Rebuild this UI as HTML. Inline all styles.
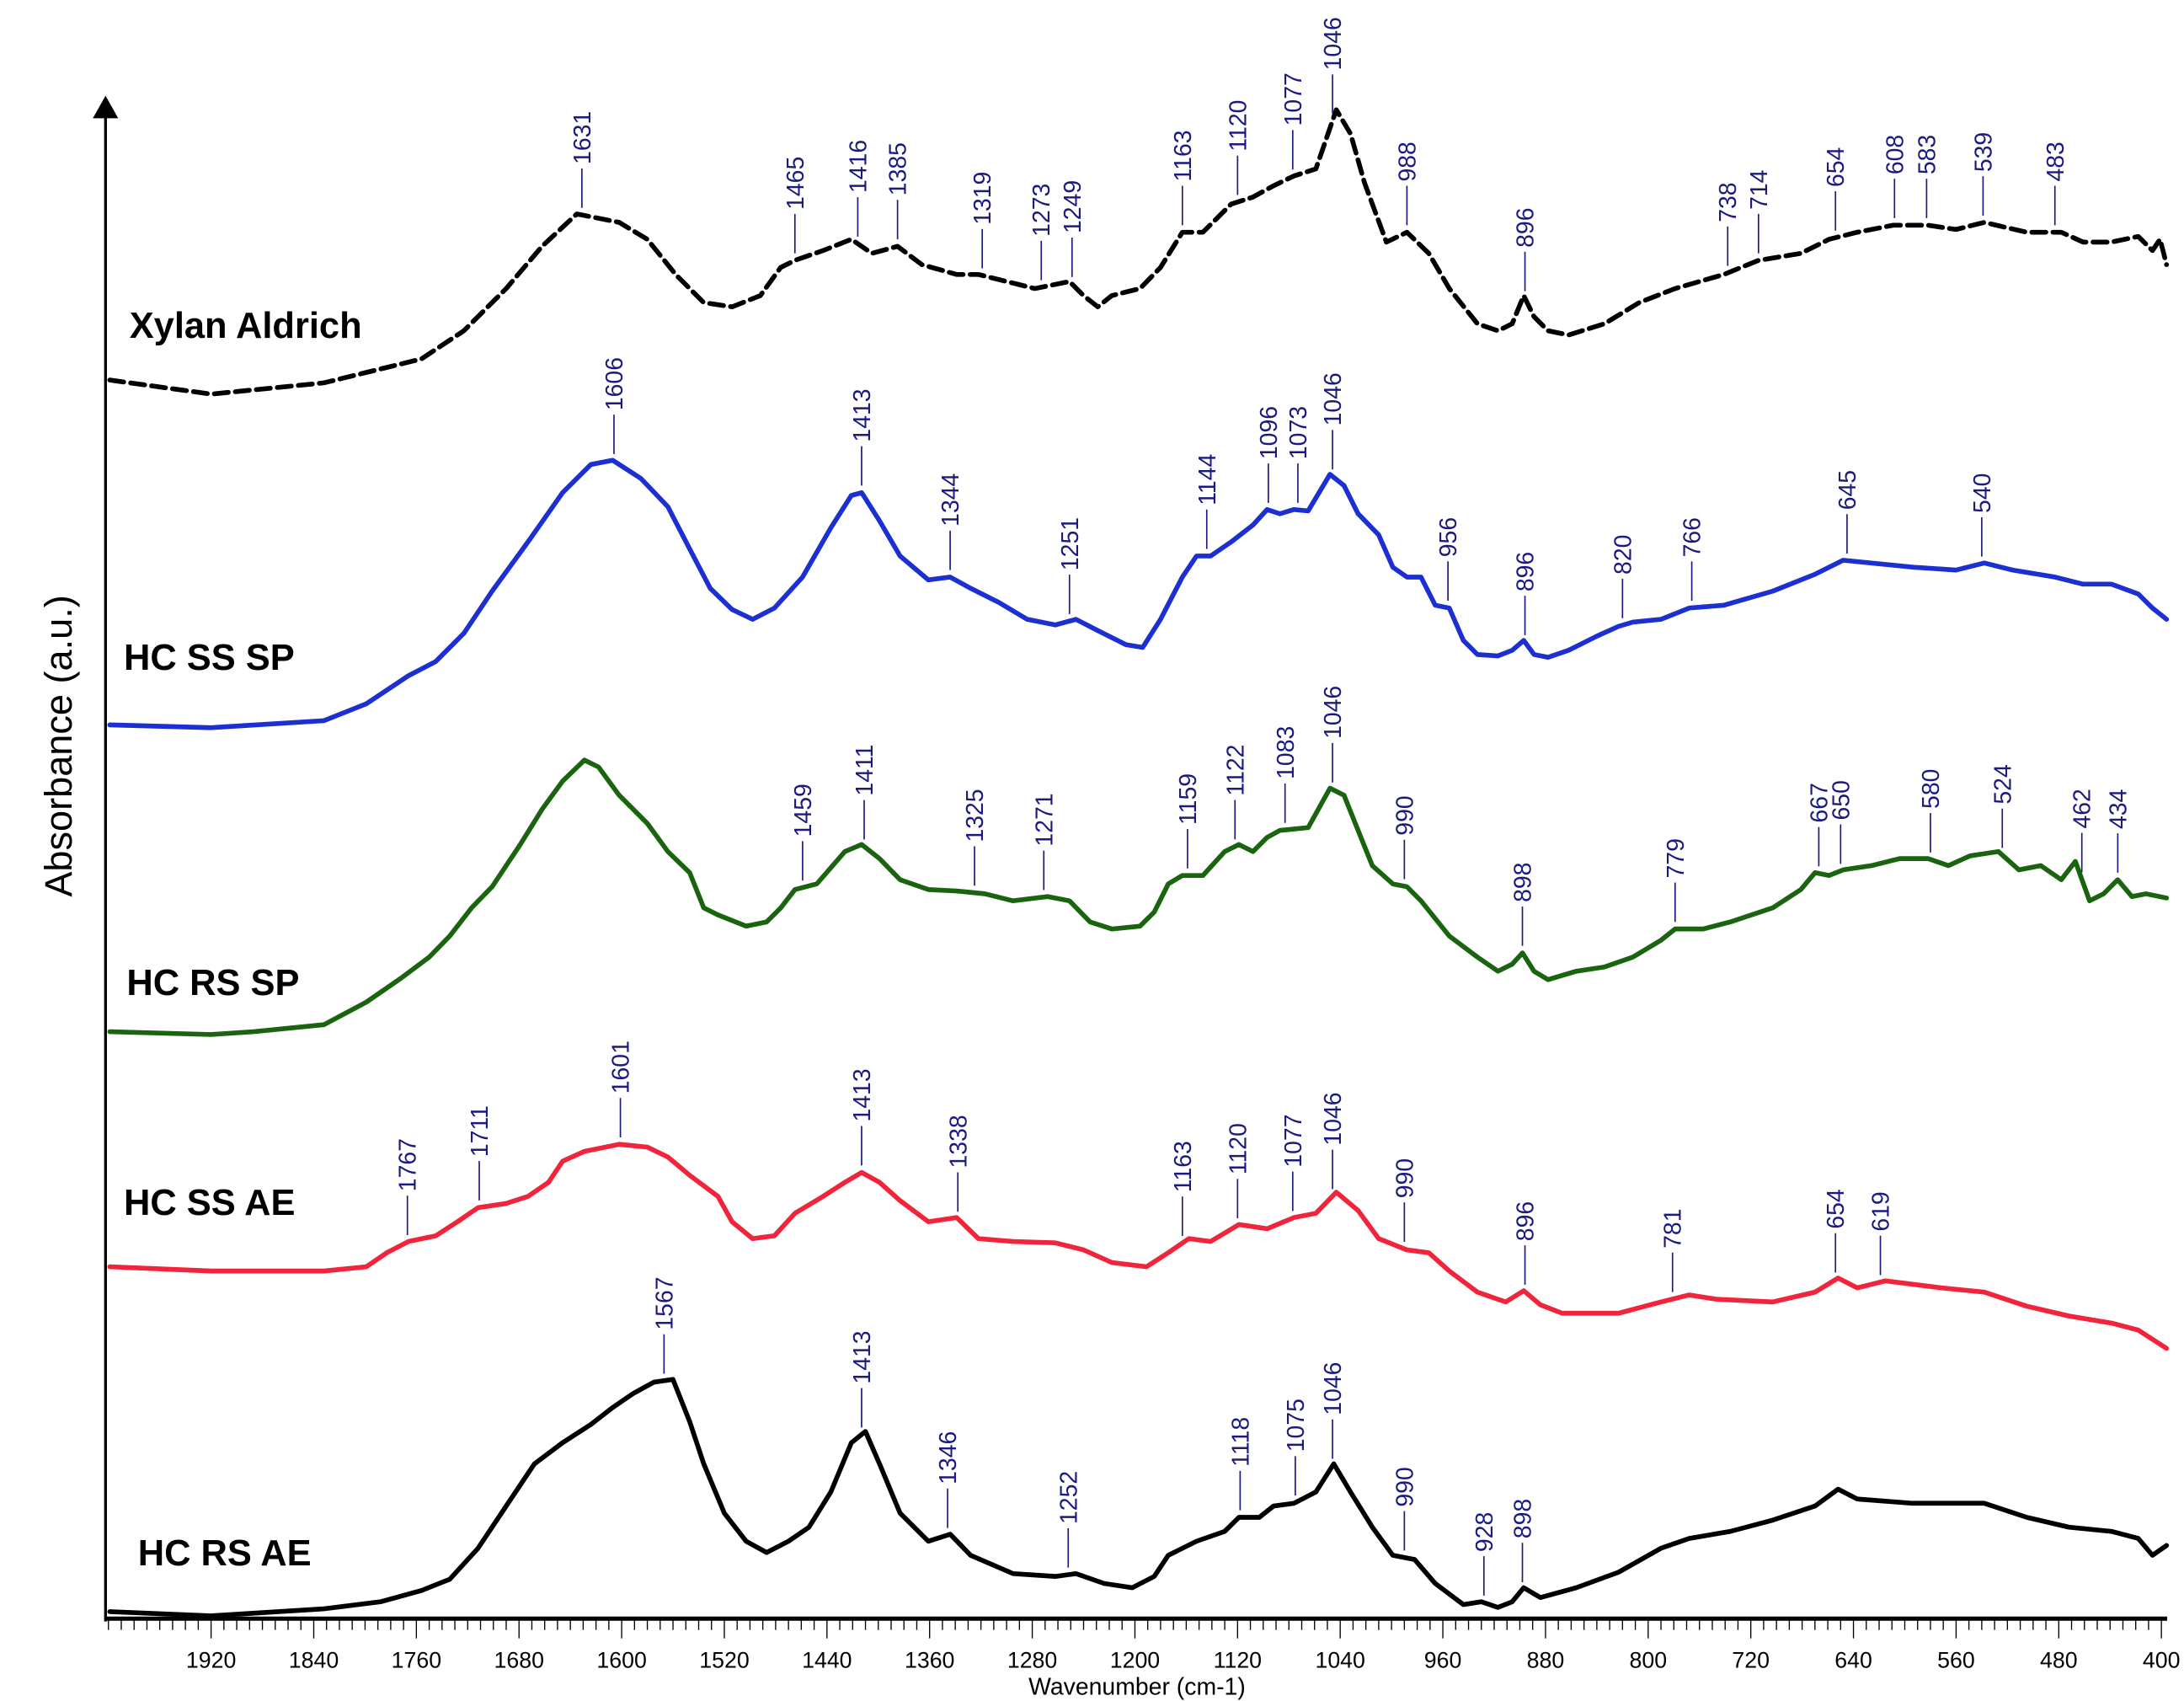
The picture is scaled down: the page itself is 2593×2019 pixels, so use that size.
<!DOCTYPE html>
<html><head><meta charset="utf-8"><style>
html,body{margin:0;padding:0;background:#fff;}
svg{display:block;}
</style></head><body>
<svg id="chart" width="2593" height="2019" viewBox="0 0 1552 1208.5" preserveAspectRatio="none" xmlns="http://www.w3.org/2000/svg">
<g id="axes"></g>
<g id="series"></g>
<g id="labels"></g>
</svg>
<script>
// ---------- data (wavenumber cm-1, absorbance a.u. offset-stacked) ----------
const xTicks = [1920,1840,1760,1680,1600,1520,1440,1360,1280,1200,1120,1040,960,880,800,720,640,560,480,400];

const xylanWn = [1999,1920,1832,1756,1723,1690,1662,1635,1602,1580,1558,1536,1514,1492,1476,1465,1443,1421,1405,1385,1366,1339,1322,1300,1278,1251,1240,1229,1218,1196,1180,1163,1147,1125,1108,1092,1076,1059,1043,1032,1021,1004,988,971,955,933,917,906,897,889,878,862,834,807,779,741,714,681,659,637,609,582,560,538,505,478,461,439,418,407,401,396];
const xylanAbs = [8.90,8.80,8.88,9.05,9.25,9.55,9.85,10.08,10.02,9.90,9.65,9.45,9.42,9.50,9.70,9.75,9.82,9.90,9.80,9.85,9.72,9.65,9.65,9.60,9.55,9.60,9.50,9.42,9.50,9.55,9.70,9.95,9.95,10.15,10.20,10.28,10.35,10.40,10.82,10.65,10.30,9.88,9.95,9.80,9.55,9.30,9.25,9.30,9.50,9.35,9.25,9.22,9.30,9.45,9.55,9.65,9.75,9.80,9.90,9.95,10.00,10.00,9.97,10.02,9.95,9.95,9.88,9.88,9.92,9.82,9.90,9.72];

const ssspWn = [1999,1920,1832,1799,1766,1745,1723,1701,1673,1646,1624,1607,1585,1564,1547,1531,1514,1498,1481,1459,1437,1421,1413,1399,1383,1361,1344,1328,1306,1284,1262,1246,1229,1207,1194,1180,1163,1152,1141,1125,1108,1097,1087,1076,1065,1048,1037,1026,1010,999,988,977,966,955,944,933,917,906,897,889,878,862,840,823,812,790,768,741,703,670,648,626,593,560,538,516,483,461,439,418,407,396];
const ssspAbs = [6.45,6.43,6.48,6.60,6.80,6.90,7.10,7.40,7.75,8.10,8.30,8.33,8.20,8.00,7.70,7.42,7.27,7.20,7.28,7.50,7.85,8.08,8.10,7.90,7.65,7.48,7.50,7.42,7.32,7.20,7.16,7.20,7.12,7.02,7.00,7.20,7.50,7.65,7.65,7.75,7.87,7.98,7.95,7.98,7.97,8.23,8.15,7.95,7.80,7.57,7.50,7.50,7.30,7.28,7.05,6.95,6.94,6.98,7.05,6.95,6.93,6.98,7.08,7.15,7.18,7.20,7.28,7.30,7.40,7.52,7.62,7.60,7.57,7.55,7.60,7.55,7.50,7.45,7.45,7.38,7.28,7.20];

const rsspWn = [1999,1920,1887,1832,1799,1772,1750,1734,1717,1701,1679,1662,1646,1629,1618,1602,1580,1564,1547,1536,1525,1503,1487,1476,1465,1448,1426,1413,1399,1383,1361,1339,1317,1295,1268,1251,1235,1218,1196,1185,1174,1163,1147,1130,1119,1108,1097,1087,1065,1048,1037,1026,1015,999,988,977,955,933,917,906,898,889,878,856,834,812,790,779,757,736,703,681,670,659,648,626,604,582,566,549,527,511,494,478,467,456,445,434,423,412,396];
const rsspAbs = [4.27,4.25,4.27,4.32,4.48,4.65,4.80,4.95,5.15,5.30,5.60,5.85,6.05,6.20,6.15,5.95,5.75,5.55,5.40,5.15,5.10,5.02,5.05,5.15,5.28,5.32,5.55,5.60,5.50,5.35,5.28,5.27,5.25,5.20,5.23,5.20,5.05,5.00,5.02,5.12,5.32,5.38,5.38,5.55,5.60,5.55,5.65,5.70,5.72,6.00,5.95,5.70,5.45,5.32,5.30,5.20,4.95,4.80,4.70,4.75,4.83,4.70,4.64,4.70,4.73,4.80,4.92,5.00,5.00,5.05,5.15,5.28,5.40,5.38,5.42,5.45,5.50,5.50,5.45,5.52,5.55,5.42,5.45,5.35,5.48,5.20,5.25,5.35,5.23,5.25,5.22];

const ssaeWn = [1999,1920,1832,1799,1783,1766,1745,1728,1712,1690,1673,1657,1646,1629,1602,1580,1564,1547,1525,1514,1498,1481,1465,1443,1426,1413,1399,1383,1361,1339,1322,1295,1262,1240,1218,1191,1174,1158,1141,1119,1097,1076,1059,1043,1026,1010,988,971,955,933,911,897,884,867,823,790,768,747,703,670,652,637,615,571,538,505,472,439,418,396];
const ssaeAbs = [2.60,2.57,2.57,2.60,2.70,2.78,2.82,2.92,3.02,3.05,3.10,3.20,3.35,3.42,3.47,3.45,3.38,3.25,3.10,2.92,2.80,2.82,2.98,3.10,3.20,3.27,3.20,3.07,2.92,2.95,2.80,2.78,2.77,2.72,2.63,2.60,2.70,2.80,2.78,2.90,2.87,2.95,2.98,3.13,3.00,2.80,2.72,2.70,2.57,2.42,2.35,2.43,2.33,2.27,2.27,2.35,2.40,2.37,2.35,2.42,2.52,2.45,2.50,2.45,2.42,2.32,2.25,2.20,2.15,2.02];

const rsaeWn = [1999,1920,1832,1788,1756,1734,1712,1690,1668,1646,1624,1607,1591,1575,1560,1547,1536,1520,1503,1487,1470,1454,1437,1421,1410,1399,1383,1361,1344,1328,1295,1262,1246,1224,1202,1185,1174,1152,1130,1119,1103,1092,1076,1059,1045,1032,1015,999,982,966,944,930,917,906,897,884,856,823,790,768,736,703,670,652,637,594,571,538,505,472,439,418,407,396];
const rsaeAbs = [0.15,0.12,0.17,0.22,0.30,0.38,0.60,0.90,1.20,1.35,1.48,1.60,1.70,1.78,1.80,1.50,1.20,0.85,0.65,0.57,0.65,0.75,1.00,1.35,1.43,1.20,0.85,0.65,0.70,0.55,0.42,0.40,0.42,0.35,0.32,0.40,0.55,0.65,0.72,0.82,0.82,0.90,0.92,1.00,1.20,1.00,0.75,0.55,0.52,0.35,0.20,0.22,0.18,0.22,0.32,0.25,0.32,0.43,0.60,0.67,0.72,0.80,0.90,1.02,0.95,0.92,0.92,0.92,0.82,0.75,0.72,0.67,0.55,0.62];

const xylanPeaks = [1631,1465,1416,1385,1319,1273,1249,1163,1120,1077,1046,988,896,738,714,654,608,583,539,483];
const ssspPeaks = [1606,1413,1344,1251,1144,1096,1073,1046,956,896,820,766,645,540];
const rsspPeaks = [1459,1411,1325,1271,1159,1122,1083,1046,990,898,779,667,650,580,524,462,434];
const ssaePeaks = [1767,1711,1601,1413,1338,1163,1120,1077,1046,990,896,781,654,619];
const rsaePeaks = [1567,1413,1346,1252,1118,1075,1046,990,928,898];

// ---------- scales ----------
const X0 = 150, PXW = 0.9118;
function xs(w){ return X0 + (1920 - w) * PXW; }
function ys(a){ return 1160 - a * 100; }
function interp(wn, ab, w){
  for (let i=0;i<wn.length-1;i++){
    if ((wn[i]>=w && wn[i+1]<=w)){
      const t=(wn[i]-w)/(wn[i]-wn[i+1]);
      return ab[i]+(ab[i+1]-ab[i])*t;
    }
  }
  return ab[ab.length-1];
}
const NS="http://www.w3.org/2000/svg";
function mk(tag, attrs, parent){
  const e=document.createElementNS(NS,tag);
  for (const k in attrs) e.setAttribute(k, attrs[k]);
  parent.appendChild(e); return e;
}
const axes=document.getElementById('axes');
const sg=document.getElementById('series');
const lg=document.getElementById('labels');

let yl=mk('line',{x1:75,y1:80,x2:75,y2:1152,stroke:'#000','stroke-width':2},axes);


let ar=mk('polygon',{points:'75,68 66,84 84,84',fill:'#000'},axes);


let xl=mk('line',{x1:75,y1:1150,x2:1540,y2:1150,stroke:'#000','stroke-width':3},axes);


for (let w=2000; w>=396; w-=10){
  const major = xTicks.includes(w);
  const mt=mk('line',{x1:xs(w),y1:1151,x2:xs(w),y2:1151+(major?13:7),stroke:'#000','stroke-width':0.8},axes);
  
  
}
xTicks.forEach(t=>{
  const tl=mk('text',{x:xs(t),y:1185,'text-anchor':'middle','font-family':'Liberation Sans, Arial, sans-serif','font-size':16,fill:'#000'},axes);
  tl.textContent=t;
  
  
});
let xt=mk('text',{x:808,y:1204,'text-anchor':'middle','font-family':'Liberation Sans, Arial, sans-serif','font-size':17,fill:'#000'},axes);
xt.textContent='Wavenumber (cm-1)';


let yt=mk('text',{x:0,y:0,'text-anchor':'middle','font-family':'Liberation Sans, Arial, sans-serif','font-size':27,fill:'#000',transform:'translate(51,530) rotate(-90)'},axes);
yt.textContent='Absorbance (a.u.)';



const seriesList=[
  {wn:xylanWn,ab:xylanAbs,pk:xylanPeaks,color:'#000',dash:'10,5',name:'Xylan Aldrich',lx:92,ly:240,id:'xylan-aldrich'},
  {wn:ssspWn,ab:ssspAbs,pk:ssspPeaks,color:'#1c2fd0',dash:null,name:'HC SS SP',lx:88,ly:476,id:'hc-ss-sp'},
  {wn:rsspWn,ab:rsspAbs,pk:rsspPeaks,color:'#1a6410',dash:null,name:'HC RS SP',lx:90,ly:707,id:'hc-rs-sp'},
  {wn:ssaeWn,ab:ssaeAbs,pk:ssaePeaks,color:'#f0243a',dash:null,name:'HC SS AE',lx:88,ly:863,id:'hc-ss-ae'},
  {wn:rsaeWn,ab:rsaeAbs,pk:rsaePeaks,color:'#000',dash:null,name:'HC RS AE',lx:98,ly:1112,id:'hc-rs-ae'}
];
seriesList.forEach(s=>{
  const d=s.wn.map((w,i)=>(i?'L':'M')+xs(w).toFixed(1)+','+ys(s.ab[i]).toFixed(1)).join(' ');
  const attrs={d:d,fill:'none',stroke:s.color,'stroke-width':3.4,'stroke-linejoin':'round','stroke-linecap':'round'};
  if (s.dash) attrs['stroke-dasharray']=s.dash;
  const p=mk('path',attrs,sg);
  
  
  const nm=mk('text',{x:s.lx,y:s.ly,'font-family':'Liberation Sans, Arial, sans-serif','font-size':26,'font-weight':'bold',fill:'#000'},sg);
  nm.textContent=s.name;
  
  
  s.pk.forEach(w=>{
    const x=xs(w), yc=ys(interp(s.wn,s.ab,w));
    const ln=mk('line',{x1:x,y1:yc-5,x2:x,y2:yc-33,stroke:'#1a1a80','stroke-width':1},lg);
    
    
    const tx=mk('text',{x:0,y:0,'font-family':'Liberation Sans, Arial, sans-serif','font-size':17,fill:'#1a1a80',transform:'translate('+(x+6).toFixed(1)+','+(yc-36).toFixed(1)+') rotate(-90)'},lg);
    tx.textContent=w;
    
    
  });
});
</script>
</body></html>
